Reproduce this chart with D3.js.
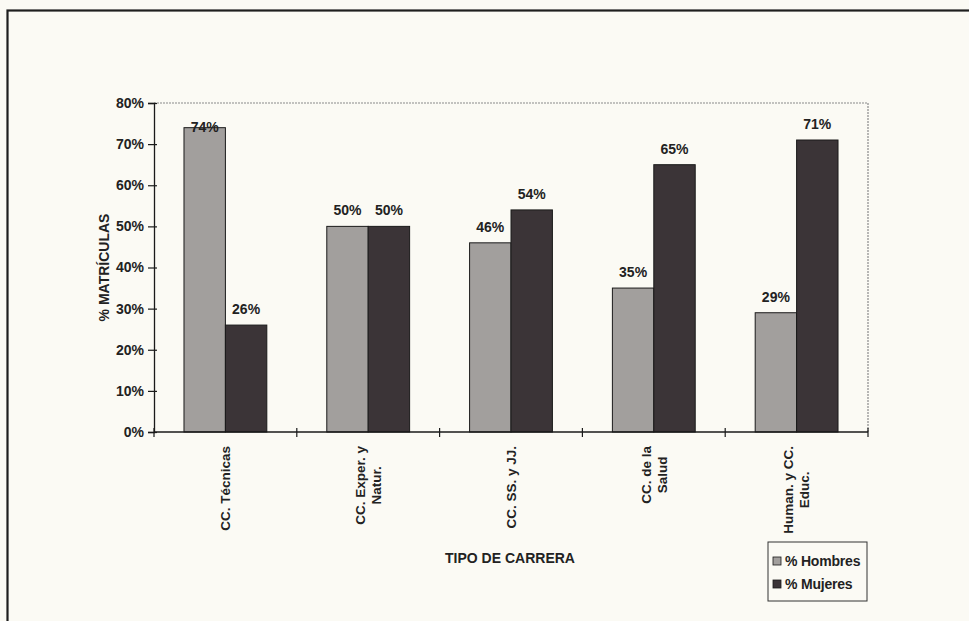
<!DOCTYPE html>
<html>
<head>
<meta charset="utf-8">
<script src="https://cdn.jsdelivr.net/npm/d3@7"></script>
<style>
  body { margin: 0; background: #fbfaf4; }
  svg text { font-family: "Liberation Sans", Arial, sans-serif; font-weight: bold; fill: #222; }
</style>
</head>
<body>
<div id="chart"></div>
<script>
// data
const categories = [["CC. Técnicas"], ["CC. Exper. y", "Natur."], ["CC. SS. y JJ."], ["CC. de la", "Salud"], ["Human. y CC.", "Educ."]];
const hombres = [0.74, 0.50, 0.46, 0.35, 0.29];
const mujeres = [0.26, 0.50, 0.54, 0.65, 0.71];
const series = ["% Hombres", "% Mujeres"];
const yTicks = [0, 0.1, 0.2, 0.3, 0.4, 0.5, 0.6, 0.7, 0.8];

const W = 969, H = 621;
const plot = {left: 154, right: 868, top: 103, bottom: 432};

const svg = d3.select("#chart").append("svg")
    .attr("width", W)
    .attr("height", H);

svg.append("rect").attr("width", W).attr("height", H).attr("fill", "#fbfaf4");

// outer frame
svg.append("rect")
  .attr("x", 7.5).attr("y", 10.5)
  .attr("width", W).attr("height", H)
  .attr("fill", "none").attr("stroke", "#1e1e1e").attr("stroke-width", 2.2);

const x = d3.scaleBand()
  .domain(d3.range(categories.length))
  .range([plot.left, plot.right]);

const x1 = d3.scaleBand()
  .domain([0, 1])
  .range([x.bandwidth() * 0.21, x.bandwidth() * 0.79]);

const y = d3.scaleLinear().domain([0, 0.8]).range([plot.bottom, plot.top]);

// plot area border (top and right, dotted grey)
svg.append("path")
  .attr("d", `M${plot.left},${plot.top}H${plot.right}V${plot.bottom}`)
  .attr("fill", "none").attr("stroke", "#8a8a8a").attr("stroke-width", 1.2)
  .attr("stroke-dasharray", "2,1");

const rows = categories.map((c, i) => ({i: i, vals: [hombres[i], mujeres[i]]}));
const fills = ["#a29f9d", "#3b3437"];

const groups = svg.selectAll(".grp")
  .data(rows)
  .join("g")
  .attr("class", "grp")
  .attr("transform", d => `translate(${x(d.i)},0)`);

groups.selectAll("rect")
  .data(d => d.vals.map((v, k) => ({k: k, v: v})))
  .join("rect")
  .attr("x", d => x1(d.k))
  .attr("y", d => y(d.v))
  .attr("width", x1.bandwidth())
  .attr("height", d => y(0) - y(d.v))
  .attr("fill", d => fills[d.k])
  .attr("stroke", "#1a1a1a")
  .attr("stroke-width", 1);

// value labels
groups.selectAll(".val")
  .data(d => d.vals.map((v, k) => ({k: k, v: v})))
  .join("text")
  .attr("class", "val")
  .attr("x", d => x1(d.k) + x1.bandwidth() / 2)
  .attr("y", d => d.v > 0.72 ? y(d.v) + 4 : y(d.v) - 11)
  .attr("text-anchor", "middle")
  .attr("font-size", 14)
  .text(d => Math.round(d.v * 100) + "%");

// y axis
const yAxis = svg.append("g")
  .attr("transform", `translate(${plot.left},0)`)
  .call(d3.axisLeft(y).tickValues(yTicks).tickFormat(d3.format(".0%")).tickSize(6).tickPadding(4));
yAxis.select(".domain").attr("stroke", "#1a1a1a").attr("stroke-width", 1.3);
yAxis.selectAll(".tick line").attr("x2", -6).attr("x1", 3).attr("stroke", "#1a1a1a").attr("stroke-width", 1.2);
yAxis.selectAll(".tick text").attr("font-size", 14).attr("font-family", "Liberation Sans, Arial").attr("font-weight", "bold").attr("fill", "#222");

// x axis
const xTickPos = d3.range(categories.length + 1).map(i => plot.left + i * x.bandwidth());
svg.append("line")
  .attr("x1", plot.left).attr("x2", plot.right)
  .attr("y1", plot.bottom).attr("y2", plot.bottom)
  .attr("stroke", "#1a1a1a").attr("stroke-width", 1.3);
svg.selectAll(".xtick")
  .data(xTickPos)
  .join("line")
  .attr("class", "xtick")
  .attr("x1", d => d).attr("x2", d => d)
  .attr("y1", plot.bottom - 4).attr("y2", plot.bottom + 5)
  .attr("stroke", "#1a1a1a").attr("stroke-width", 1.2);

// category labels, rotated; lines centred on each other, block hung from the axis
const xl = svg.selectAll(".xlab")
  .data(rows)
  .join("text")
  .attr("class", "xlab")
  .attr("text-anchor", "middle")
  .attr("font-size", 13.5);
xl.selectAll("tspan")
  .data(d => categories[d.i].map((t, j, a) => ({t: t, off: (j - (a.length - 1) / 2) * 16})))
  .join("tspan")
  .attr("x", 0)
  .attr("y", d => d.off)
  .attr("dy", "0.35em")
  .text(d => d.t);
xl.each(function (d) {
  const w = d3.max(d3.select(this).selectAll("tspan").nodes(), n => n.getComputedTextLength());
  d3.select(this).attr("transform",
    `translate(${x(d.i) + x.bandwidth() / 2},${plot.bottom + 14 + w / 2}) rotate(-90)`);
});

// axis titles
svg.append("text")
  .attr("transform", `translate(104,${(plot.top + plot.bottom) / 2}) rotate(-90)`)
  .attr("text-anchor", "middle")
  .attr("dy", "0.35em")
  .attr("font-size", 14)
  .text("% MATRÍCULAS");

svg.append("text")
  .attr("x", 510).attr("y", 563)
  .attr("text-anchor", "middle")
  .attr("font-size", 14)
  .text("TIPO DE CARRERA");

// legend
const lg = svg.append("g").attr("transform", "translate(768,542)");
lg.append("rect")
  .attr("width", 99).attr("height", 59)
  .attr("fill", "#fbfaf4").attr("stroke", "#333").attr("stroke-width", 1);
const li = lg.selectAll(".li")
  .data(series)
  .join("g")
  .attr("class", "li")
  .attr("transform", (d, i) => `translate(5,${19 + i * 23})`);
li.append("rect")
  .attr("x", 0).attr("y", -4).attr("width", 8).attr("height", 8)
  .attr("fill", (d, i) => fills[i]).attr("stroke", "#1a1a1a").attr("stroke-width", 0.8);
li.append("text")
  .attr("x", 12).attr("dy", "0.35em")
  .attr("font-size", 14)
  .attr("letter-spacing", -0.2)
  .text(d => d);
</script>
</body>
</html>
